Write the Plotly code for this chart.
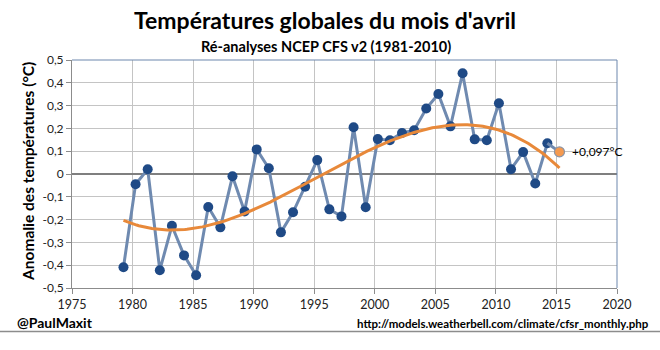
import numpy as np
import plotly.graph_objects as go

# ---- data ----
years = list(range(1979, 2016))
anomalies = [-0.409, -0.045, 0.021, -0.422, -0.227, -0.357, -0.444, -0.145, -0.234, -0.010,
             -0.164, 0.108, 0.025, -0.256, -0.168, -0.056, 0.061, -0.155, -0.186, 0.205,
             -0.146, 0.153, 0.148, 0.180, 0.192, 0.287, 0.351, 0.209, 0.442, 0.152,
             0.148, 0.310, 0.021, 0.096, -0.042, 0.135, 0.097]
last_label = "+0,097°C"
x_ticks = [1975, 1980, 1985, 1990, 1995, 2000, 2005, 2010, 2015, 2020]
y_ticks = [0.5, 0.4, 0.3, 0.2, 0.1, 0, -0.1, -0.2, -0.3, -0.4, -0.5]
y_ticktext = ["0,5", "0,4", "0,3", "0,2", "0,1", "0", "-0,1", "-0,2", "-0,3", "-0,4", "-0,5"]

MONTH_OFFSET = 0.25  # April
xs = [y + MONTH_OFFSET for y in years]

# 3rd order polynomial trend (as in the spreadsheet trendline)
coef = np.polyfit(xs, anomalies, 3)
xt = np.linspace(xs[0], xs[-1], 200)
yt = np.polyval(coef, xt)

# ---- layout geometry ----
W, H = 660, 350
L, R, T, B = 72, 617, 60, 288
def px(x):
    return (x - L) / (R - L)
def py(y):
    return (B - y) / (B - T)

FONT = "Lato"
fig = go.Figure()

fig.add_trace(go.Scatter(
    x=xs[:-1], y=anomalies[:-1], mode="lines+markers",
    line=dict(color="#6f8ab0", width=3),
    marker=dict(color="#1f4a86", size=10, line=dict(width=0)),
    showlegend=False, hoverinfo="skip"))
# connecting segment to last point
fig.add_trace(go.Scatter(
    x=xs[-2:], y=anomalies[-2:], mode="lines",
    line=dict(color="#6f8ab0", width=3), showlegend=False, hoverinfo="skip"))
fig.add_trace(go.Scatter(
    x=xt, y=yt, mode="lines", line=dict(color="#e8893a", width=3),
    showlegend=False, hoverinfo="skip"))
fig.add_trace(go.Scatter(
    x=[xs[-1]], y=[anomalies[-1]], mode="markers",
    marker=dict(color="#f59a4f", size=10, line=dict(color="#8a94a6", width=1.2)),
    showlegend=False, hoverinfo="skip"))

fig.update_xaxes(
    range=[1975, 2020], tickvals=x_ticks, ticktext=[str(v) for v in x_ticks],
    showgrid=True, gridcolor="#c4c4c4", gridwidth=1,
    showline=True, linecolor="#8c8c8c", linewidth=1,
    ticks="outside", ticklen=5, tickcolor="#8c8c8c",
    tickfont=dict(family=FONT, size=12.5, color="#222"), zeroline=False)
fig.update_yaxes(
    range=[-0.5, 0.5], tickvals=y_ticks, ticktext=y_ticktext,
    showgrid=True, gridcolor="#c4c4c4", gridwidth=1,
    showline=True, linecolor="#8c8c8c", linewidth=1,
    ticks="outside", ticklen=5, tickcolor="#8c8c8c",
    tickfont=dict(family=FONT, size=12, color="#222"),
    zeroline=True, zerolinecolor="#7f7f7f", zerolinewidth=2)

shapes = [
    # top and right plot border (blue-grey)
    dict(type="line", xref="paper", yref="paper", x0=0, x1=1, y0=1, y1=1,
         line=dict(color="#6d87ad", width=1)),
    dict(type="line", xref="paper", yref="paper", x0=1, x1=1, y0=0, y1=1,
         line=dict(color="#6d87ad", width=1)),
    # bottom separator line across the picture
    dict(type="line", xref="paper", yref="paper", x0=px(0), x1=px(W), y0=py(331.5), y1=py(331.5),
         line=dict(color="#8c8c8c", width=1.5)),
]

annotations = [
    dict(text="<b>Températures globales du mois d'avril</b>", x=px(325), y=py(20),
         xref="paper", yref="paper", showarrow=False, xanchor="center", yanchor="middle",
         font=dict(family=FONT, size=23, color="#000")),
    dict(text="<b>Ré-analyses NCEP CFS v2 (1981-2010)</b>", x=px(326), y=py(46),
         xref="paper", yref="paper", showarrow=False, xanchor="center", yanchor="middle",
         font=dict(family=FONT, size=14.5, color="#000")),
    dict(text="<b>Anomalie des températures (°C)</b>", x=px(28), y=py(172),
         xref="paper", yref="paper", showarrow=False, xanchor="center", yanchor="middle",
         textangle=-90, font=dict(family=FONT, size=15.5, color="#000")),
    dict(text="<b>@PaulMaxit</b>", x=px(15), y=py(322),
         xref="paper", yref="paper", showarrow=False, xanchor="left", yanchor="middle",
         font=dict(family=FONT, size=14, color="#000")),
    dict(text="<b>http://models.weatherbell.com/climate/cfsr_monthly.php</b>", x=px(651), y=py(323),
         xref="paper", yref="paper", showarrow=False, xanchor="right", yanchor="middle",
         font=dict(family=FONT, size=11.5, color="#000")),
    dict(text=last_label, x=xs[-1], y=anomalies[-1], xref="x", yref="y",
         showarrow=False, xanchor="left", yanchor="middle", xshift=11,
         font=dict(family=FONT, size=12, color="#000")),
]

fig.update_layout(
    width=W, height=H, margin=dict(l=L, r=W - R, t=T, b=H - B),
    paper_bgcolor="white", plot_bgcolor="white",
    shapes=shapes, annotations=annotations, showlegend=False)

fig.write_html("out.html")
